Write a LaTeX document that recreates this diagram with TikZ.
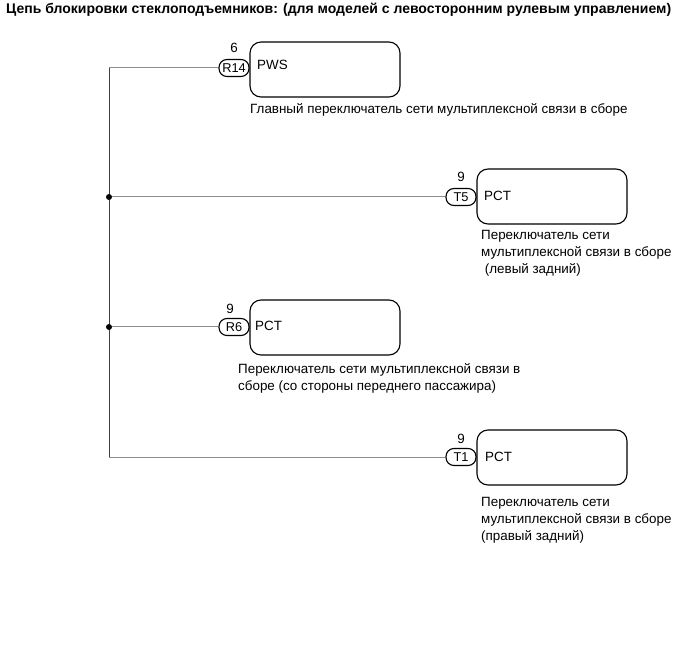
\documentclass[tikz,border=0pt]{standalone}
\usepackage{fontspec}
\setmainfont{Liberation Sans}
\usepackage{xcolor}
\definecolor{WireGray}{HTML}{8C8C8C}
\tikzset{
    ecu/.style={draw,line width=1.1pt,rounded corners=11pt,minimum width=150pt,minimum height=55pt,inner sep=0pt},
    pill/.style={draw,line width=1.1pt,rounded corners=8pt,minimum width=30pt,minimum height=17pt,inner sep=0pt,font=\fontsize{12.8}{14}\selectfont},
    txt/.style={inner sep=0pt,align=left,font=\fontsize{13.4}{17}\selectfont},
    wire/.style={color=WireGray,line width=1pt},
    dot/.style={circle,fill=black,minimum size=6pt,inner sep=0pt}
}

\begin{document}
\begin{tikzpicture}[x=1pt,y=-1pt]
    \useasboundingbox (0,0) rectangle (691,660);

    \node[txt,anchor=west,font=\fontsize{14}{17}\selectfont\bfseries] (title) at (6,10) {Цепь блокировки стеклоподъемников: (для моделей с левосторонним рулевым управлением)};

    \node[ecu] (pws) at (325,69.5) {};
    \node[ecu] (pctA) at (552,196.5) {};
    \node[ecu] (pctB) at (325,327.5) {};
    \node[ecu] (pctC) at (552,457.5) {};

    \node[pill] (r14) at (234,68) {R14};
    \node[pill] (t5) at (461,197) {T5};
    \node[pill] (r6) at (234,327) {R6};
    \node[pill] (t1) at (461,457) {T1};

    \node[txt] (pinA) at (234,47.5) {6};
    \node[txt] (pinB) at (461,176.5) {9};
    \node[txt] (pinC) at (230,309) {9};
    \node[txt] (pinD) at (461,438.5) {9};

    \node[txt,anchor=west] (namePws) at (257,65) {PWS};
    \node[txt,anchor=west] (nameA) at (484,195.5) {PCT};
    \node[txt,anchor=west] (nameB) at (255,326) {PCT};
    \node[txt,anchor=west] (nameC) at (485,456.5) {PCT};

    \node[txt,anchor=north west] (descPws) at (250,103) {Главный переключатель сети мультиплексной связи в сборе};
    \node[txt,anchor=north west] (descA) at (481,230) {Переключатель сети\\мультиплексной связи в сборе\\\ (левый задний)};
    \node[txt,anchor=north west] (descB) at (238,363.5) {Переключатель сети мультиплексной связи в\\сборе (со стороны переднего пассажира)};
    \node[txt,anchor=north west] (descC) at (481,497) {Переключатель сети\\мультиплексной связи в сборе\\(правый задний)};

    \node[dot] (jointA) at (109,197) {};
    \node[dot] (jointB) at (109,327) {};
    \coordinate (cornerA) at (109,68);
    \coordinate (cornerB) at (109,457);

    \draw[wire] (cornerA) -- (r14.west);
    \draw[wire] (jointA) -- (t5.west);
    \draw[wire] (jointB) -- (r6.west);
    \draw[wire] (cornerB) -- (t1.west);
    \draw[line width=0.9pt,color=black!75] (cornerA) -- (jointA) -- (jointB) -- (cornerB);
\end{tikzpicture}
\end{document}
